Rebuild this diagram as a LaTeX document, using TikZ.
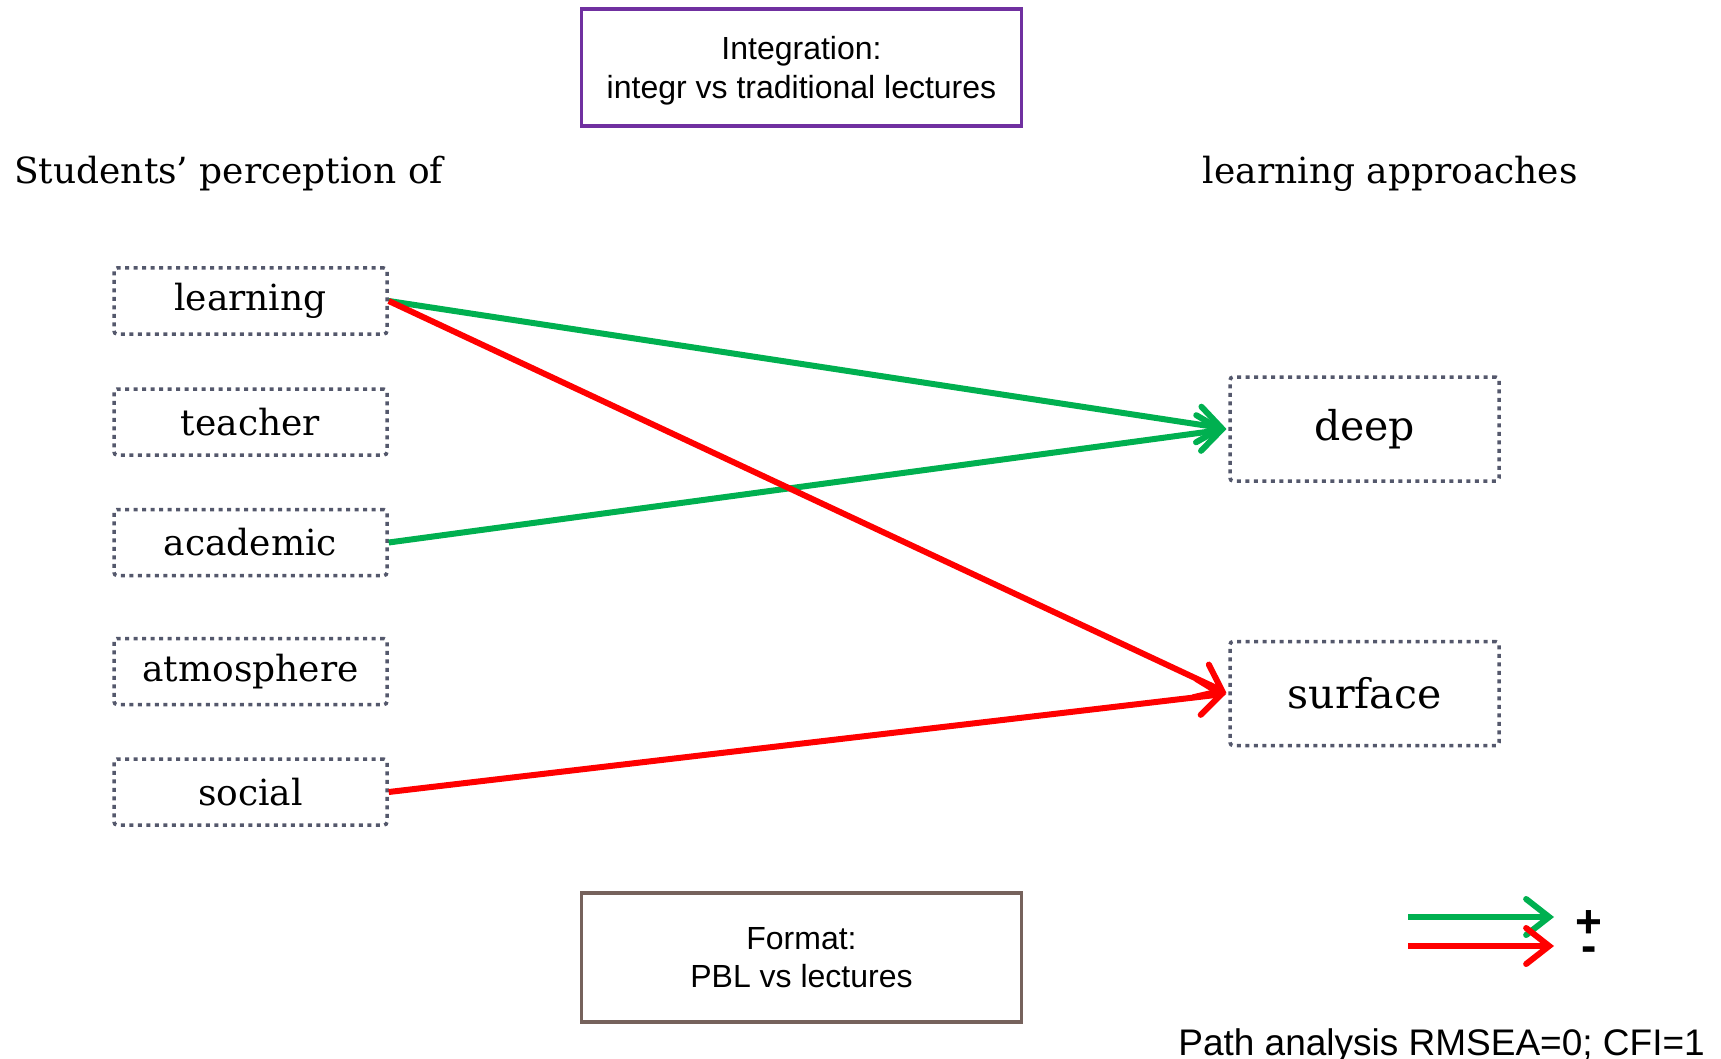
\documentclass[tikz,border=0pt]{standalone}
\usepackage{fontspec}
\setmainfont{DejaVu Serif}
\newfontfamily\arialfont{Liberation Sans}
\usetikzlibrary{arrows.meta}
\definecolor{posgreen}{RGB}{0,176,80}
\definecolor{negred}{RGB}{255,0,0}
\definecolor{boxpurple}{RGB}{112,48,160}
\definecolor{boxbrown}{RGB}{118,98,92}
\definecolor{dotgray}{RGB}{84,88,108}
\begin{document}
\begin{tikzpicture}[x=1pt,y=-1pt,
  varbox/.style={draw=dotgray,line width=3.5pt,dash pattern=on 4pt off 4.5pt,
    rounded corners=3pt,inner sep=0pt,font=\fontsize{36}{42}\selectfont},
  leftbox/.style={varbox,minimum width=273pt,minimum height=66pt},
  rightbox/.style={varbox,minimum width=269pt,minimum height=104pt,font=\fontsize{41}{48}\selectfont},
  factor/.style={draw,line width=3.5pt,minimum width=440pt,inner sep=0pt,align=center,
    font=\arialfont\fontsize{32}{38.5}\selectfont},
  header/.style={inner sep=0pt,font=\fontsize{36}{42}\selectfont},
  linkbase/.style={line width=6pt,-{Straight Barb[length=23pt,width=36pt,line width=6pt,line cap=round]},shorten >=2pt},
  poslink/.style={linkbase,draw=posgreen},
  neglink/.style={linkbase,draw=negred},
  signlabel/.style={inner sep=0pt,anchor=base,font=\arialfont\bfseries\fontsize{46}{46}\selectfont}]
\useasboundingbox (0,0) rectangle (1721,1059);

% moderators
\node[factor,draw=boxpurple,minimum height=117pt] (integ) at (801.5,67.5)
  {\rule{0pt}{30pt}Integration:\\integr vs traditional lectures};
\node[factor,draw=boxbrown,minimum height=129pt] (format) at (801.5,957.5)
  {Format:\\PBL vs lectures};

% column headings
\node[header,anchor=base west] (hleft) at (14,184) {Students’ perception of};
\node[header,anchor=base east] (hright) at (1578,184) {learning approaches};

% perception variables
\node[leftbox] (learning) at (250.5,301) {learning};
\node[leftbox] (teacher) at (250.5,422) {teacher};
\node[leftbox] (academic) at (250.5,542.5) {academic};
\node[leftbox] (atmosphere) at (250.5,671.5) {atmosphere};
\node[leftbox] (social) at (250.5,792) {social};

% learning approaches
\node[rightbox] (deep) at (1364.5,429) {deep};
\node[rightbox] (surface) at (1364.5,693.5) {surface};

% significant paths
\draw[poslink] (learning.east) -- (deep.west);
\draw[poslink] (academic.east) -- (deep.west);
\draw[neglink] (learning.east) -- (surface.west);
\draw[neglink] (social.east) -- (surface.west);

% legend
\coordinate (gs) at (1408,917);
\coordinate (ge) at (1554,917);
\coordinate (rs) at (1408,946);
\coordinate (re) at (1554,946);
\draw[poslink,shorten >=0pt] (gs) -- (ge);
\draw[neglink,shorten >=0pt] (rs) -- (re);
\node[signlabel] (plus) at (1589,937) {+};
\node[signlabel] (minus) at (1589,961) {-};

\node[inner sep=0pt,anchor=base east,font=\arialfont\fontsize{37}{40}\selectfont] (fit) at (1705,1055)
  {Path analysis RMSEA=0; CFI=1};
\end{tikzpicture}
\end{document}
